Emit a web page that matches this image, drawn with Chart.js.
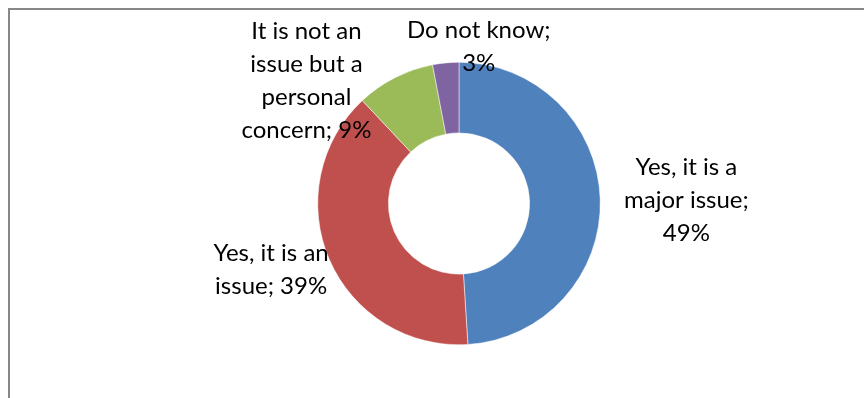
<!DOCTYPE html>
<html>
<head>
<meta charset="utf-8">
<script src="https://cdn.jsdelivr.net/npm/chart.js@4"></script>
<style>
    html, body { margin: 0; padding: 0; background: #fff; }
    #wrap { width: 864px; height: 398px; position: relative; }
</style>
</head>
<body>
<div id="wrap"><canvas id="koordChart"></canvas></div>
<script>
var valaszok = ['Yes, it is a major issue', 'Yes, it is an issue', 'It is not an issue but a personal concern', 'Do not know'];
var szazalekok = [49, 39, 9, 3];
// label text split into lines
var cimkeSorok = [
    ['Yes, it is a', 'major issue;', '49%'],
    ['Yes, it is an', 'issue; 39%'],
    ['It is not an', 'issue but a', 'personal', 'concern; 9%'],
    ['Do not know;', '3%']
];
var szinek = ['#4F81BD', '#C0504D', '#9BBB59', '#8064A2'];

// label centre, relative to the ring centre, in outer radius units
var cimkeHely = [
    { dx: 1.61, dy: -0.02 },
    { dx: -1.33, dy: 0.47 },
    { dx: -1.08, dy: -0.87 },
    { dx: 0.14, dy: -1.11 }
];

var keret = {
    id: 'keret',
    beforeDraw: function (chart) {
        var c = chart.ctx;
        c.save();
        c.strokeStyle = '#878787';
        c.lineWidth = 2;
        c.beginPath();
        c.moveTo(9, chart.height + 2);
        c.lineTo(9, 9);
        c.lineTo(chart.width + 2, 9);
        c.stroke();
        c.restore();
    }
};

var cimkek = {
    id: 'cimkek',
    afterDatasetsDraw: function (chart) {
        var c = chart.ctx;
        var meta = chart.getDatasetMeta(0);
        c.save();
        c.fillStyle = '#000';
        c.font = '24px Lato, Calibri, sans-serif';
        c.textAlign = 'center';
        c.textBaseline = 'middle';
        var sorMagassag = 33;
        meta.data.forEach(function (arc, i) {
            var p = arc.getProps(['x', 'y', 'outerRadius'], true);
            var cx = p.x + cimkeHely[i].dx * p.outerRadius;
            var cy = p.y + cimkeHely[i].dy * p.outerRadius;
            var sorok = cimkeSorok[i];
            var y0 = cy - (sorok.length - 1) * sorMagassag / 2;
            sorok.forEach(function (s, j) {
                c.fillText(s, cx, y0 + j * sorMagassag);
            });
        });
        c.restore();
    }
};

var ctx = document.getElementById('koordChart').getContext('2d');
var koordChart = new Chart(ctx, {
    type: 'doughnut',
    data: {
        labels: valaszok,
        datasets: [{
            data: szazalekok,
            backgroundColor: szinek,
            borderColor: '#ffffff',
            borderWidth: 0.5
        }]
    },
    options: {
        responsive: true,
        maintainAspectRatio: false,
        animation: false,
        cutout: '50%',
        layout: {
            padding: { left: 100, right: 46, top: 62, bottom: 53 }
        },
        plugins: {
            legend: { display: false },
            tooltip: { enabled: false }
        }
    },
    plugins: [keret, cimkek]
});
</script>
</body>
</html>
